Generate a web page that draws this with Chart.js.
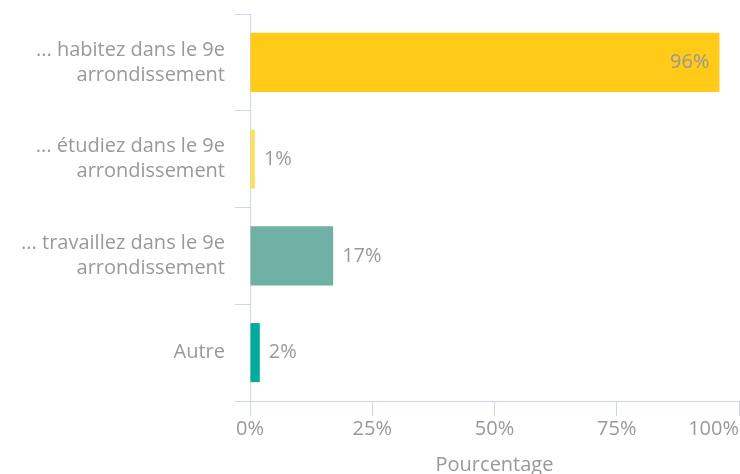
<!DOCTYPE html>
<html>
<head>
<meta charset="utf-8">
<script src="https://cdn.jsdelivr.net/npm/chart.js@4"></script>
<style>
  html, body { margin: 0; padding: 0; background: #fff; }
  #wrap { width: 740px; height: 474px; }
</style>
</head>
<body>
<div id="wrap"><canvas id="mychart" width="740" height="474"></canvas></div>
<script>
// categories and values
const categories = [
  ['... habitez dans le 9e', 'arrondissement'],
  ['... étudiez dans le 9e', 'arrondissement'],
  ['... travaillez dans le 9e', 'arrondissement'],
  'Autre'
];
const values = [96, 1, 17, 2];
const barColors = ['#FFCA18', '#FDE05E', '#6FB1A5', '#00AB99'];
const xTicks = [0, 25, 50, 75, 100];

const axisColor = '#CCD6EB';
const textColor = '#999999';
const fontFamily = '"Open Sans", "Noto Sans", sans-serif';

// bar value labels: inside for the long bar, outside for the others
const valueLabels = {
  id: 'valueLabels',
  afterDatasetsDraw(chart) {
    const ctx = chart.ctx;
    const meta = chart.getDatasetMeta(0);
    ctx.save();
    ctx.font = '20px ' + fontFamily;
    ctx.fillStyle = textColor;
    ctx.textBaseline = 'middle';
    meta.data.forEach(function (bar, i) {
      const txt = values[i] + '%';
      if (values[i] > 90) {
        ctx.textAlign = 'right';
        ctx.fillText(txt, bar.x - 10, bar.y);
      } else {
        ctx.textAlign = 'left';
        ctx.fillText(txt, bar.x + 9, bar.y);
      }
    });
    ctx.restore();
  }
};

// last x tick label sits right-aligned at the edge
const lastTickRight = {
  id: 'lastTickRight',
  beforeDraw(chart) {
    const items = chart.scales.x.getLabelItems();
    if (items.length) items[items.length - 1].options.textAlign = 'right';
  }
};

new Chart('mychart', {
  type: 'bar',
  data: {
    labels: categories,
    datasets: [{
      data: values,
      backgroundColor: barColors,
      borderWidth: 0,
      barPercentage: 0.61,
      categoryPercentage: 1
    }]
  },
  options: {
    indexAxis: 'y',
    responsive: false,
    animation: false,
    layout: { padding: { top: 14, right: 1, left: 0, bottom: 0 } },
    plugins: {
      legend: { display: false },
      tooltip: { enabled: false }
    },
    scales: {
      y: {
        afterFit: function (s) {
          s.width = 250;
          s.paddingTop = 0;
          s.paddingBottom = 0;
        },
        grid: {
          offset: true,
          drawOnChartArea: false,
          tickLength: 15,
          color: axisColor
        },
        border: { color: axisColor },
        ticks: {
          padding: 10,
          color: textColor,
          font: { family: fontFamily, size: 20, lineHeight: 1.25 }
        }
      },
      x: {
        min: 0,
        max: 100,
        afterBuildTicks: function (s) {
          s.ticks = xTicks.map(function (v) { return { value: v }; });
        },
        afterFit: function (s) {
          s.height = 73;
          s.paddingLeft = 0;
          s.paddingRight = 0;
        },
        grid: {
          drawOnChartArea: false,
          tickLength: 15,
          color: axisColor
        },
        border: { color: axisColor },
        ticks: {
          padding: 1,
          color: textColor,
          font: { family: fontFamily, size: 20 },
          callback: function (v) { return v + '%'; }
        },
        title: {
          display: true,
          text: 'Pourcentage',
          color: textColor,
          font: { family: fontFamily, size: 20 },
          padding: { top: 4, bottom: -3 }
        }
      }
    }
  },
  plugins: [valueLabels, lastTickRight]
});
</script>
</body>
</html>
